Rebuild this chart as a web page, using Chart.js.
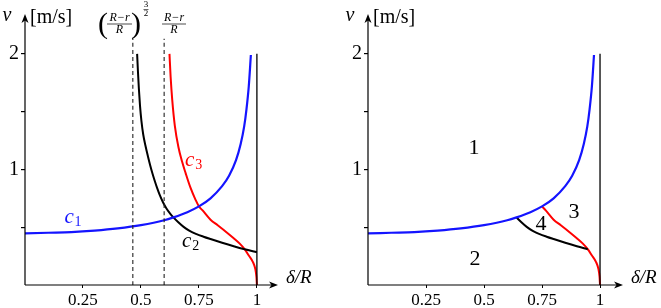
<!DOCTYPE html>
<html>
<head>
<meta charset="utf-8">
<script src="https://cdn.jsdelivr.net/npm/chart.js@4.4.1/dist/chart.umd.min.js"></script>
<style>
  html, body { margin: 0; padding: 0; background: #fff; }
  #wrap { position: relative; width: 661px; height: 308px; }
  #leftBox { position: absolute; left: 0; top: 0; width: 330px; height: 308px; }
  #rightBox { position: absolute; left: 330px; top: 0; width: 331px; height: 308px; }
</style>
</head>
<body>
<div id="wrap">
  <div id="leftBox"><canvas id="leftChart"></canvas></div>
  <div id="rightBox"><canvas id="rightChart"></canvas></div>
</div>
<script>
// valori (delta/R, v in m/s)
const c1X = [0, 0.1, 0.2, 0.3, 0.4, 0.5, 0.6, 0.64, 0.7, 0.75, 0.8, 0.85, 0.88, 0.91, 0.93, 0.945, 0.955, 0.965, 0.974];
const c1V = [0.446, 0.452, 0.458, 0.471, 0.49, 0.518, 0.56, 0.585, 0.63, 0.68, 0.75, 0.855, 0.945, 1.08, 1.22, 1.37, 1.52, 1.72, 1.99];

const c2X = [0.4835, 0.487, 0.491, 0.496, 0.502, 0.51, 0.519, 0.53, 0.54, 0.55, 0.56, 0.57, 0.58, 0.595, 0.61, 0.625, 0.64, 0.66, 0.684, 0.71, 0.74, 0.77, 0.8, 0.85, 0.9, 0.947, 1.0];
const c2V = [2.0, 1.85, 1.70, 1.55, 1.42, 1.30, 1.21, 1.115, 1.035, 0.963, 0.898, 0.838, 0.784, 0.716, 0.662, 0.62, 0.585, 0.545, 0.503, 0.468, 0.44, 0.418, 0.398, 0.366, 0.336, 0.31, 0.284];

const c3X = [0.623, 0.628, 0.635, 0.646, 0.662, 0.677, 0.693, 0.714, 0.736, 0.75, 0.766, 0.8, 0.831, 0.87, 0.9, 0.925, 0.947, 0.965, 0.983, 0.993, 0.998, 1.0];
const c3V = [2.0, 1.8, 1.6, 1.38, 1.19, 1.07, 0.966, 0.84, 0.735, 0.68, 0.645, 0.565, 0.517, 0.455, 0.405, 0.36, 0.31, 0.255, 0.198, 0.14, 0.07, 0];

// linee tratteggiate: ((R-r)/R)^(3/2) e (R-r)/R
const dashX = [0.465, 0.6];
const dashTop = 2.13;
const wallX = 1;
const wallTop = 2.0;

// tratti usati nel grafico di destra (confini delle zone)
const zone4Range = [0.64, 0.947];
const zone3Range = [0.75, 1.0];

const xTicks = [0.25, 0.5, 0.75, 1];
const yTicks = [0.5, 1, 1.5, 2];
const yTickLabels = { 1: "1", 2: "2" };

const FONT = "'Liberation Serif', 'DejaVu Serif', serif";
const BLUE = "#1414ff";
const RED = "#ff0000";

function toPts(xs, vs) {
  return xs.map((x, i) => ({ x: x, y: vs[i] }));
}

function inRange(pts, r) {
  return pts.filter((p) => p.x >= r[0] - 1e-9 && p.x <= r[1] + 1e-9);
}

function line(data, color, width, dash) {
  return {
    data: data,
    showLine: true,
    borderColor: color,
    borderWidth: width,
    borderDash: dash || [],
    pointRadius: 0,
    cubicInterpolationMode: "monotone",
    fill: false,
  };
}

function makeScales(yWidth, xMax, yMax) {
  return {
    x: {
      type: "linear",
      min: 0,
      max: xMax,
      border: { display: false },
      grid: { drawOnChartArea: false, tickLength: 3, color: "#000" },
      ticks: {
        color: "#000",
        font: { family: FONT, size: 17 },
        padding: 2,
        autoSkip: false,
        maxRotation: 0,
        callback: (v) => String(v),
      },
      afterBuildTicks: (s) => { s.ticks = xTicks.map((v) => ({ value: v })); },
      afterFit: (s) => { s.height = 23; },
    },
    y: {
      type: "linear",
      min: 0,
      max: yMax,
      border: { display: false },
      grid: { drawOnChartArea: false, tickLength: 4, color: "#000", lineWidth: 1.2 },
      ticks: {
        color: "#000",
        font: { family: FONT, size: 20 },
        padding: 2,
        autoSkip: false,
        callback: (v) => yTickLabels[v] || "",
      },
      afterBuildTicks: (s) => { s.ticks = yTicks.map((v) => ({ value: v })); },
      afterFit: (s) => { s.width = yWidth; },
    },
  };
}

function arrowHead(ctx, x, y, dir) {
  // dir: 'right' o 'up'
  ctx.beginPath();
  if (dir === "right") {
    ctx.moveTo(x, y);
    ctx.lineTo(x - 9, y - 3.5);
    ctx.lineTo(x - 6.5, y);
    ctx.lineTo(x - 9, y + 3.5);
  } else {
    ctx.moveTo(x, y);
    ctx.lineTo(x - 3.5, y + 9);
    ctx.lineTo(x, y + 6.5);
    ctx.lineTo(x + 3.5, y + 9);
  }
  ctx.closePath();
  ctx.fill();
}

function drawAxes(chart) {
  const ctx = chart.ctx;
  const a = chart.chartArea;
  ctx.save();
  ctx.strokeStyle = "#000";
  ctx.fillStyle = "#000";
  ctx.lineWidth = 1.2;
  ctx.beginPath();
  ctx.moveTo(a.left, a.bottom);
  ctx.lineTo(a.right - 6, a.bottom);
  ctx.moveTo(a.left, a.bottom);
  ctx.lineTo(a.left, a.top + 6);
  ctx.stroke();
  arrowHead(ctx, a.right, a.bottom, "right");
  arrowHead(ctx, a.left, a.top, "up");

  // etichette assi
  ctx.textBaseline = "middle";
  ctx.textAlign = "center";
  ctx.font = "italic 20px " + FONT;
  ctx.fillText("v", a.left - 18, 16);
  ctx.textAlign = "left";
  ctx.font = "20px " + FONT;
  ctx.fillText("[m/s]", a.left + 5, 18);
  ctx.font = "italic 19px " + FONT;
  ctx.fillText("\u03B4/R", a.right + 8, a.bottom - 7);
  ctx.restore();
}

function txt(ctx, s, x, y, font, color) {
  ctx.font = font;
  ctx.fillStyle = color || "#000";
  ctx.fillText(s, x, y);
}

function drawFrac(ctx, cx, top, width) {
  ctx.textAlign = "center";
  ctx.textBaseline = "middle";
  txt(ctx, "R\u2212r", cx, top + 4.5, "italic 12px " + FONT);
  ctx.strokeStyle = "#000";
  ctx.lineWidth = 0.7;
  ctx.beginPath();
  ctx.moveTo(cx - width / 2, top + 11);
  ctx.lineTo(cx + width / 2, top + 11);
  ctx.stroke();
  txt(ctx, "R", cx, top + 17, "italic 12px " + FONT);
}

const leftPlugin = {
  id: "leftLabels",
  afterDraw(chart) {
    drawAxes(chart);
    const ctx = chart.ctx;
    const xs = chart.scales.x;
    const ys = chart.scales.y;
    const P = (x, v) => [xs.getPixelForValue(x), ys.getPixelForValue(v)];
    ctx.save();
    // frazioni in alto
    ctx.textAlign = "center";
    ctx.textBaseline = "middle";
    txt(ctx, "(", 103, 25, "300 30px " + FONT);
    txt(ctx, ")", 136, 25, "300 30px " + FONT);
    drawFrac(ctx, 119.5, 13, 25);
    txt(ctx, "3", 146, 5, "9px " + FONT);
    ctx.lineWidth = 0.6;
    ctx.beginPath();
    ctx.moveTo(143.5, 9.5);
    ctx.lineTo(148.5, 9.5);
    ctx.stroke();
    txt(ctx, "2", 146, 14, "9px " + FONT);
    drawFrac(ctx, 174, 13, 24);

    // nomi delle curve
    let p = P(0.19, 0.586);
    txt(ctx, "c", p[0], p[1], "italic 21px " + FONT, BLUE);
    txt(ctx, "1", p[0] + 9, p[1] + 5, "14px " + FONT, BLUE);
    p = P(0.697, 0.38);
    txt(ctx, "c", p[0], p[1], "italic 21px " + FONT, "#000");
    txt(ctx, "2", p[0] + 9, p[1] + 5, "14px " + FONT, "#000");
    p = P(0.71, 1.08);
    txt(ctx, "c", p[0], p[1], "italic 21px " + FONT, RED);
    txt(ctx, "3", p[0] + 9, p[1] + 5, "14px " + FONT, RED);
    ctx.restore();
  },
};

const rightPlugin = {
  id: "rightLabels",
  afterDraw(chart) {
    drawAxes(chart);
    const ctx = chart.ctx;
    const xs = chart.scales.x;
    const ys = chart.scales.y;
    const P = (x, v) => [xs.getPixelForValue(x), ys.getPixelForValue(v)];
    ctx.save();
    ctx.textAlign = "center";
    ctx.textBaseline = "middle";
    const zones = [["1", 0.457, 1.18], ["2", 0.461, 0.224], ["3", 0.888, 0.63], ["4", 0.746, 0.526]];
    zones.forEach((z) => {
      const p = P(z[1], z[2]);
      txt(ctx, z[0], p[0], p[1], "22px " + FONT);
    });
    ctx.restore();
  },
};

const c1Pts = toPts(c1X, c1V);
const c2Pts = toPts(c2X, c2V);
const c3Pts = toPts(c3X, c3V);

const leftDatasets = [
  line([{ x: dashX[0], y: 0 }, { x: dashX[0], y: dashTop }], "#222", 1.1, [4, 3]),
  line([{ x: dashX[1], y: 0 }, { x: dashX[1], y: dashTop }], "#222", 1.1, [4, 3]),
  line([{ x: wallX, y: 0 }, { x: wallX, y: wallTop }], "#000", 1.3),
  line(c1Pts, BLUE, 2.2),
  line(c2Pts, "#000", 2),
  line(c3Pts, RED, 2),
];

const rightDatasets = [
  line([{ x: wallX, y: 0 }, { x: wallX, y: wallTop }], "#000", 1.3),
  line(c1Pts, BLUE, 2.2),
  line(inRange(c2Pts, zone4Range), "#000", 2),
  line(inRange(c3Pts, zone3Range), RED, 2),
];

const common = {
  responsive: true,
  maintainAspectRatio: false,
  animation: false,
  plugins: { legend: { display: false }, tooltip: { enabled: false } },
};

new Chart(document.getElementById("leftChart"), {
  type: "scatter",
  data: { datasets: leftDatasets },
  options: Object.assign({}, common, {
    layout: { padding: { top: 13, right: 52, left: 0, bottom: 0 } },
    scales: makeScales(25, 1.091, 2.345),
  }),
  plugins: [leftPlugin],
});

new Chart(document.getElementById("rightChart"), {
  type: "scatter",
  data: { datasets: rightDatasets },
  options: Object.assign({}, common, {
    layout: { padding: { top: 13, right: 38, left: 0, bottom: 0 } },
    scales: makeScales(38, 1.099, 2.345),
  }),
  plugins: [rightPlugin],
});
</script>
</body>
</html>
